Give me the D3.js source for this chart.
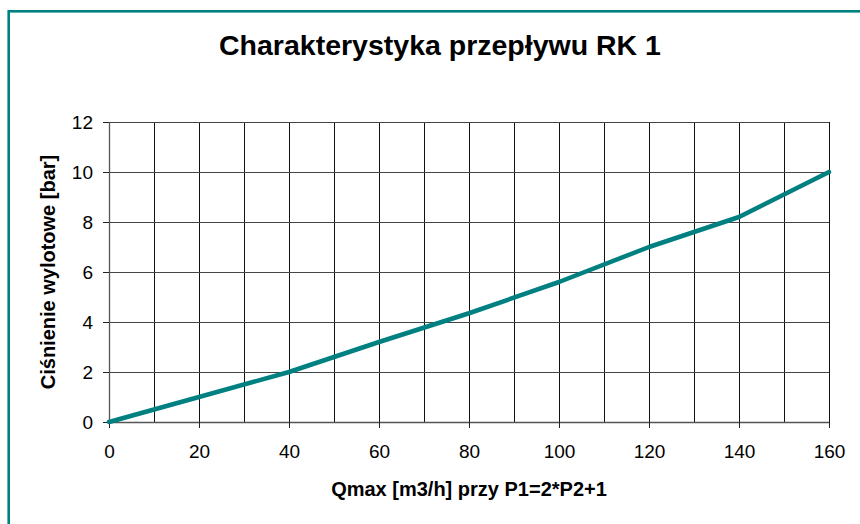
<!DOCTYPE html>
<html>
<head>
<meta charset="utf-8">
<script src="https://cdn.jsdelivr.net/npm/d3@7"></script>
<style>
  html, body { margin: 0; padding: 0; background: #fff; }
  svg { display: block; font-family: "Liberation Sans", Arial, sans-serif; }
</style>
</head>
<body>
<div id="chart"></div>
<script>
(function () {
'use strict';
// Charakterystyka przepływu RK 1 — line chart

const flow = [0, 20, 40, 60, 80, 100, 120, 140, 160];          // Qmax [m3/h]
const pressure = [0, 1, 2, 3.2, 4.35, 5.6, 7.0, 8.2, 10];      // bar
const xTicks = [0, 20, 40, 60, 80, 100, 120, 140, 160];
const xGrid = [10, 20, 30, 40, 50, 60, 70, 80, 90, 100, 110, 120, 130, 140, 150, 160];
const yTicks = [0, 2, 4, 6, 8, 10, 12];

const TITLE = "Charakterystyka przepływu RK 1";
const X_TITLE = "Qmax [m3/h] przy P1=2*P2+1";
const Y_TITLE = "Ciśnienie wylotowe [bar]";

const width = 860, height = 524;
const TEAL = "#008080";
const margin = {top: 122, right: 31, bottom: 102, left: 109};
const innerW = width - margin.left - margin.right;
const innerH = height - margin.top - margin.bottom;

const svg = d3.select("#chart").append("svg")
  .attr("width", width).attr("height", height);

// outer frame (only top/left visible)
svg.append("rect")
  .attr("x", 8.7).attr("y", 11.3)
  .attr("width", width + 20).attr("height", height + 20)
  .attr("fill", "none").attr("stroke", TEAL).attr("stroke-width", 2.6);

const g = svg.append("g").attr("transform", `translate(${margin.left},${margin.top})`);

const x = d3.scaleLinear().domain([0, 160]).range([0, innerW]);
const y = d3.scaleLinear().domain([0, 12]).range([innerH, 0]);

// vertical grid
g.append("g").selectAll("line").data(xGrid).join("line")
  .attr("x1", d => Math.round(x(d)) + 0.5).attr("x2", d => Math.round(x(d)) + 0.5)
  .attr("y1", 0).attr("y2", innerH)
  .attr("stroke", "#111").attr("stroke-width", 1);

// horizontal grid
g.append("g").selectAll("line").data(yTicks.filter(d => d > 0)).join("line")
  .attr("x1", 0).attr("x2", innerW)
  .attr("y1", d => Math.round(y(d)) + 0.5).attr("y2", d => Math.round(y(d)) + 0.5)
  .attr("stroke", "#444").attr("stroke-width", 1);

// axes
const xAxisG = g.append("g").attr("transform", `translate(0,${innerH})`)
  .call(d3.axisBottom(x).tickValues(xTicks).tickSize(6).tickPadding(0).tickSizeOuter(0));
const yAxisG = g.append("g")
  .call(d3.axisLeft(y).tickValues(yTicks).tickSize(6).tickPadding(10).tickSizeOuter(0));

[xAxisG, yAxisG].forEach(a => {
  a.select(".domain").attr("stroke", "#555").attr("stroke-width", 1.3);
  a.selectAll(".tick line").attr("stroke", "#222");
  a.selectAll("text")
    .attr("fill", "#000")
    .attr("font-size", 19)
    .attr("font-family", "Liberation Sans, Arial, sans-serif");
});
xAxisG.selectAll("text").attr("y", 36).attr("dy", null);
yAxisG.selectAll("text").attr("dy", "0.35em");

// data line
g.append("path")
  .datum(flow.map((f, i) => [f, pressure[i]]))
  .attr("fill", "none")
  .attr("stroke", TEAL)
  .attr("stroke-width", 4.5)
  .attr("stroke-linejoin", "round")
  .attr("stroke-linecap", "round")
  .attr("d", d3.line().x(d => x(d[0])).y(d => y(d[1])));

// titles
svg.append("text")
  .attr("x", 440).attr("y", 55)
  .attr("text-anchor", "middle")
  .attr("font-size", 28.5).attr("font-weight", "bold")
  .text(TITLE);

svg.append("text")
  .attr("x", margin.left + innerW / 2).attr("y", 496)
  .attr("text-anchor", "middle")
  .attr("font-size", 20).attr("font-weight", "bold")
  .text(X_TITLE);

svg.append("text")
  .attr("transform", `translate(55,${margin.top + innerH / 2}) rotate(-90)`)
  .attr("text-anchor", "middle")
  .attr("font-size", 20).attr("font-weight", "bold")
  .text(Y_TITLE);
})();
</script>
</body>
</html>
